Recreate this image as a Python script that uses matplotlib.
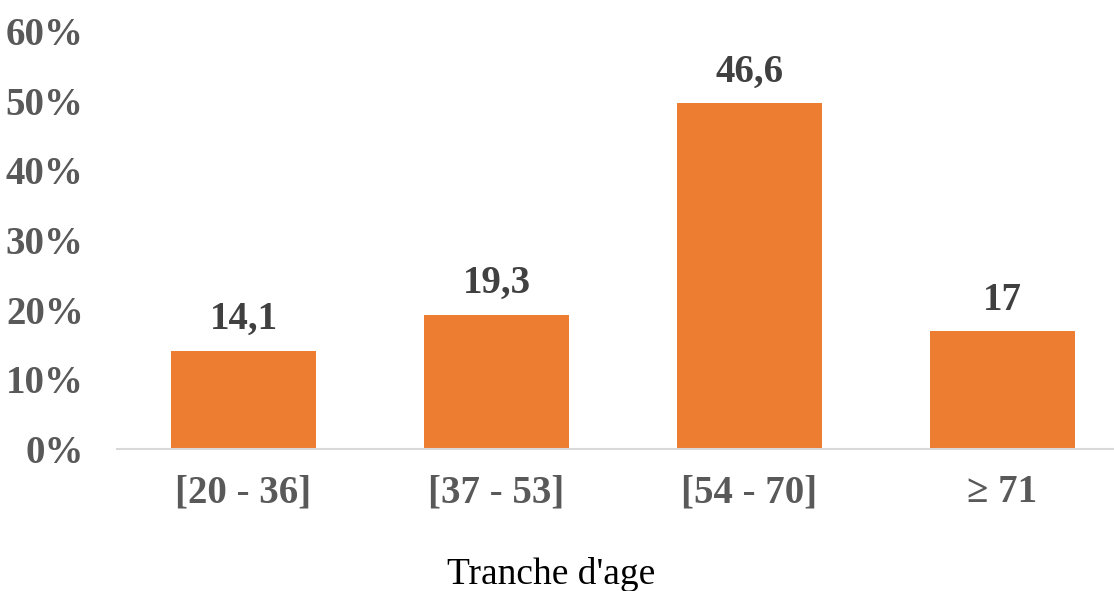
import matplotlib.pyplot as plt
from matplotlib.ticker import FuncFormatter

# données
categories = ["[20 - 36]", "[37 - 53]", "[54 - 70]", "\u2265 71"]
hauteurs = [14.1, 19.3, 49.6, 16.9]   # hauteur des barres (%)
etiquettes = ["14,1", "19,3", "46,6", "17"]
yticks = [0, 10, 20, 30, 40, 50, 60]

plt.rcParams['font.family'] = ['Liberation Serif', 'DejaVu Serif']

fig = plt.figure(figsize=(11.14, 5.91), dpi=100)
ax = fig.add_axes([117 / 1114, 1 - 449 / 591, 1012 / 1114, (449 - 31) / 591])

x = range(len(categories))
bars = ax.bar(x, hauteurs, width=0.57, color="#ED7D31")

for b, lab in zip(bars, etiquettes):
    ax.text(b.get_x() + b.get_width() / 2, b.get_height() + 1.8, lab,
            ha="center", va="bottom", fontsize=28, fontweight="bold", color="#404040")

ax.set_xlim(-0.5, 3.5)
ax.set_ylim(0, 60)
ax.set_yticks(yticks)
ax.yaxis.set_major_formatter(FuncFormatter(lambda v, p: f"{int(v)}%"))
ax.set_xticks(list(x))
ax.set_xticklabels(categories)

for s in ["top", "right", "left"]:
    ax.spines[s].set_visible(False)
ax.spines["bottom"].set_color("#D9D9D9")
ax.spines["bottom"].set_linewidth(1.5)

ax.tick_params(axis="y", length=0, pad=24, labelsize=28, labelcolor="#595959")
ax.tick_params(axis="x", length=0, pad=18, labelsize=28, labelcolor="#595959")
for t in ax.get_yticklabels() + ax.get_xticklabels():
    t.set_fontweight("bold")

fig.text(551 / 1114, 1 - 575 / 591, "Tranche d'age", ha="center", va="center",
         fontsize=27, color="black")

fig.savefig("out.png")
